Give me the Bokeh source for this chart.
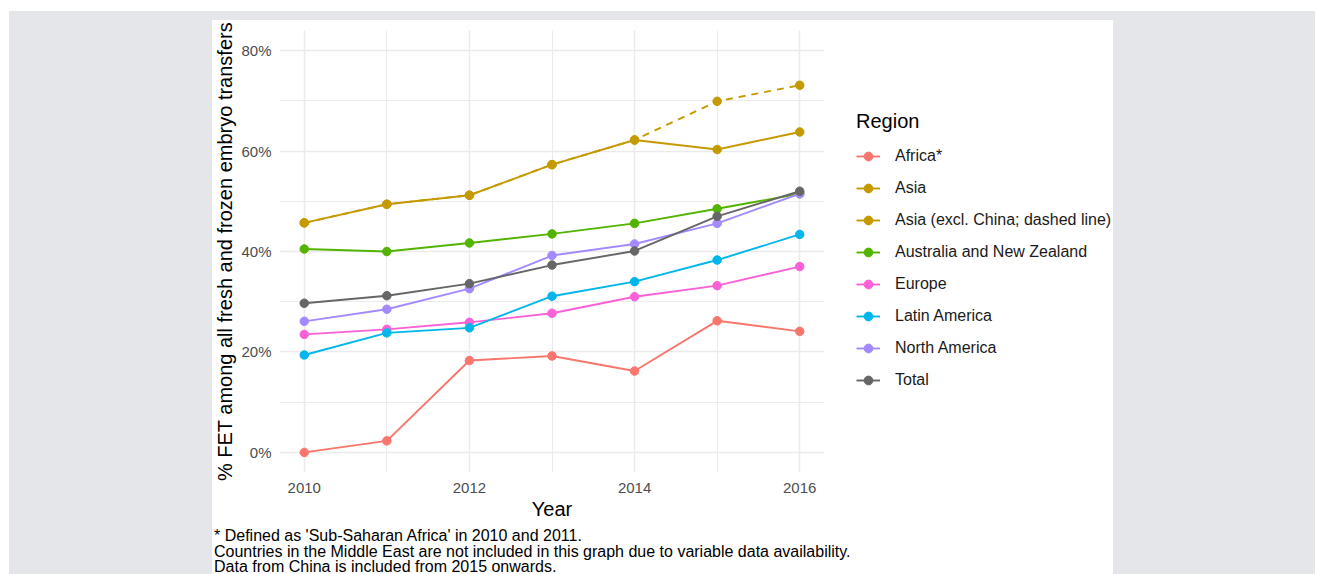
from bokeh.plotting import figure
from bokeh.models import (ColumnDataSource, Legend, LegendItem, Spacer, Div, Title,
                          SingleIntervalTicker, PrintfTickFormatter, Range1d)
from bokeh.layouts import row, column
from bokeh.embed import file_html
from bokeh.resources import INLINE

# ---------------- data ----------------
years = [2010, 2011, 2012, 2013, 2014, 2015, 2016]
africa = [0.0, 2.3, 18.3, 19.2, 16.2, 26.2, 24.1]
asia = [45.7, 49.4, 51.2, 57.3, 62.2, 60.3, 63.8]
asia_excl_china = [45.7, 49.4, 51.2, 57.3, 62.2, 69.9, 73.1]
aus_nz = [40.5, 40.0, 41.7, 43.5, 45.6, 48.5, 51.5]
europe = [23.5, 24.5, 25.9, 27.7, 31.0, 33.2, 37.0]
latin_america = [19.4, 23.8, 24.8, 31.1, 34.0, 38.3, 43.4]
north_america = [26.1, 28.5, 32.6, 39.2, 41.5, 45.6, 51.5]
total = [29.7, 31.2, 33.6, 37.3, 40.1, 47.0, 52.0]

region_labels = ["Africa*", "Asia", "Asia (excl. China; dashed line)",
                 "Australia and New Zealand", "Europe", "Latin America",
                 "North America", "Total"]
region_colors = ["#F8766D", "#C49A00", "#C49A00", "#53B400", "#FB61D7",
                 "#00B6EB", "#A58AFF", "#666666"]
series = [africa, asia, asia_excl_china, aus_nz, europe, latin_america,
          north_america, total]

y_title = "% FET among all fresh and frozen embryo transfers"
x_title = "Year"
caption_lines = ["* Defined as 'Sub-Saharan Africa' in 2010 and 2011.",
                 "Countries in the Middle East are not included in this graph due to variable data availability.",
                 "Data from China is included from 2015 onwards."]

FONT = "Liberation Sans"

# ---------------- main plot ----------------
p = figure(width=612, height=504, output_backend="svg", toolbar_location=None,
           x_range=Range1d(2009.7, 2016.3), y_range=Range1d(-4, 84),
           min_border_left=66, min_border_right=0, min_border_top=10,
           min_border_bottom=52, background_fill_color="white",
           border_fill_color="white")
p.outline_line_color = None

p.xaxis.ticker = SingleIntervalTicker(interval=2, num_minor_ticks=2)
p.yaxis.ticker = SingleIntervalTicker(interval=20, num_minor_ticks=2)
p.yaxis.formatter = PrintfTickFormatter(format="%d%%")
for ax in (p.xaxis[0], p.yaxis[0]):
    ax.axis_line_color = None
    ax.major_tick_line_color = None
    ax.minor_tick_line_color = None
    ax.major_tick_out = 0
    ax.major_tick_in = 0
    ax.minor_tick_out = 0
    ax.minor_tick_in = 0
    ax.major_label_text_font = FONT
    ax.major_label_text_font_size = "15px"
    ax.major_label_text_color = "#4D4D4D"
    ax.axis_label_text_font = FONT
    ax.axis_label_text_font_size = "20px"
    ax.axis_label_text_font_style = "normal"
    ax.axis_label_text_color = "black"
p.xaxis.axis_label = x_title
p.xaxis.major_label_standoff = 10
p.xaxis.axis_label_standoff = 2
p.yaxis.major_label_standoff = 8

# y title as a left-side title, anchored at the outer edge of its panel
p.add_layout(Title(text=y_title, align="center", vertical_align="top",
                   standoff=2, text_font=FONT, text_font_size="20px",
                   text_font_style="normal", text_color="black"), "left")

for g in (p.xgrid[0], p.ygrid[0]):
    g.grid_line_color = "#EBEBEB"
    g.grid_line_width = 1.5
    g.minor_grid_line_color = "#EBEBEB"
    g.minor_grid_line_width = 1.0

for lab, col, vals in zip(region_labels, region_colors, series):
    src = ColumnDataSource(dict(x=years, y=vals))
    dash = "7 6" if lab.startswith("Asia (excl") else "solid"
    p.line("x", "y", source=src, line_color=col, line_width=1.9, line_dash=dash)
    p.scatter("x", "y", source=src, size=8.5, fill_color=col, line_color=col)

# ---------------- legend (own canvas, right of the plot) ----------------
# the legend canvas shows no data area: its ranges lie away from the series,
# its renderers only supply the legend swatches
lg = figure(width=289, height=504, output_backend="svg", toolbar_location=None,
            x_axis_type=None, y_axis_type=None, min_border=0,
            x_range=Range1d(0, 1), y_range=Range1d(0, 1),
            background_fill_color="white", border_fill_color="white")
lg.outline_line_color = None
lg.grid.visible = False
items = []
for lab, col, vals in zip(region_labels, region_colors, series):
    src = ColumnDataSource(dict(x=years, y=vals))
    lr = lg.line("x", "y", source=src, line_color=col, line_width=1.9)
    sr = lg.scatter("x", "y", source=src, size=8.5, fill_color=col, line_color=col)
    items.append(LegendItem(label=lab, renderers=[lr, sr]))

legend = Legend(items=items, location=(32, 81), title="Region",
                title_text_font=FONT, title_text_font_size="20px",
                title_text_font_style="normal", title_text_color="black",
                title_standoff=12,
                label_text_font=FONT, label_text_font_size="16px",
                label_text_color="#1A1A1A",
                glyph_width=24, glyph_height=22, label_height=22,
                spacing=10, label_standoff=15, padding=0, margin=0,
                border_line_color=None, background_fill_alpha=0)
lg.add_layout(legend)

# ---------------- caption ----------------
caption = Div(text=("<div style=\"font-family:'Liberation Sans',Arial,sans-serif;"
                    "font-size:16px;line-height:15.5px;color:#000;white-space:nowrap;\">"
                    + "<br>".join(caption_lines) + "</div>"),
              width=901, height=50,
              styles={"background-color": "white", "padding": "4px 0 0 2px",
                      "box-sizing": "border-box", "margin": "0"})

GRAY = "#E5E6E9"
left_sp = Spacer(width=203, height=563, styles={"background-color": GRAY})
top_sp = Spacer(width=901, height=9, styles={"background-color": GRAY})
right_sp = Spacer(width=202, height=563, styles={"background-color": GRAY})
layout = column(Spacer(width=1315, height=11),
                row(Spacer(width=9, height=563), left_sp,
                    column(top_sp, row(p, lg), caption), right_sp))

open("out.html", "w").write(file_html(layout, INLINE))
